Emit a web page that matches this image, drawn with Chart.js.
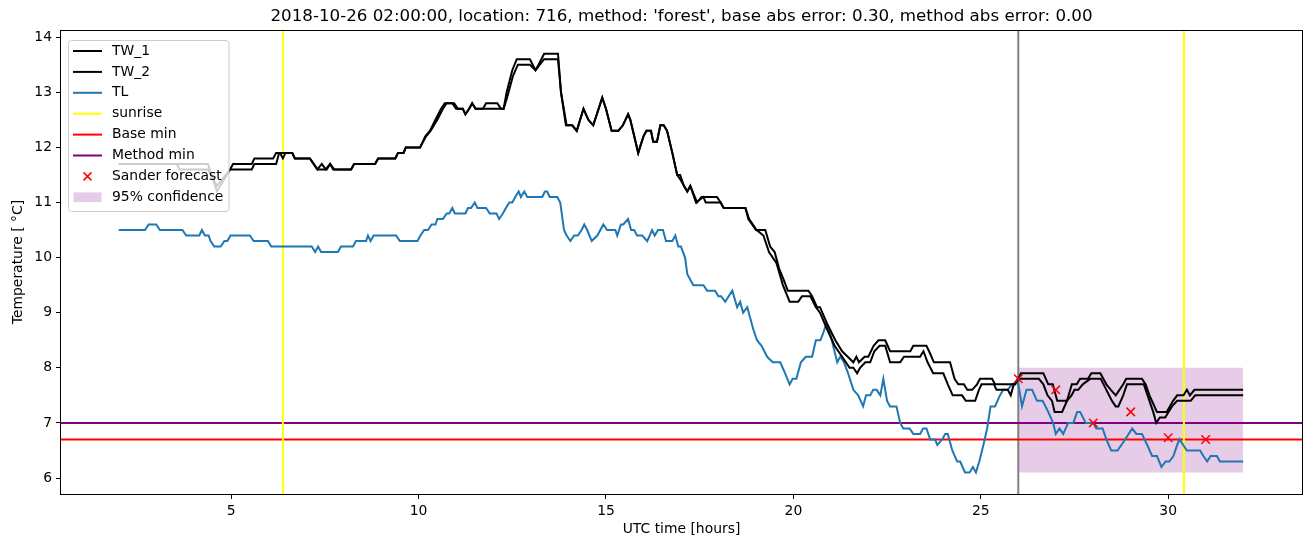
<!DOCTYPE html>
<html>
<head>
<meta charset="utf-8">
<script src="https://cdn.jsdelivr.net/npm/chart.js@4.4.0/dist/chart.umd.min.js"></script>
<style>
  body { margin: 0; background: #fff; }
  canvas { display: block; }
</style>
</head>
<body>
<canvas id="grafico" width="1311" height="547"></canvas>
<script>
// eixos
const xMin = 0.46, xMax = 33.57;
const yMin = 5.71, yMax = 14.13;
const xTicks = [5, 10, 15, 20, 25, 30];
const yTicks = [6, 7, 8, 9, 10, 11, 12, 13, 14];

// TW_1 (horas UTC, graus)
const tempoTw1 = [2.0, 4.38, 4.62, 4.97, 5.05, 5.55, 5.62, 6.12, 6.2, 6.3, 6.38, 6.45, 6.63, 6.7, 7.1, 7.2, 7.3, 7.42, 7.52, 7.64, 7.75, 8.2, 8.28, 8.84, 8.92, 9.38, 9.45, 9.6, 9.66, 10.04, 10.18, 10.3, 10.45, 10.6, 10.7, 10.95, 11.05, 11.18, 11.25, 11.35, 11.43, 11.52, 11.72, 11.8, 12.1, 12.2, 12.27, 12.35, 12.5, 12.62, 12.97, 13.12, 13.2, 13.35, 13.72, 13.8, 13.93, 14.1, 14.22, 14.4, 14.53, 14.66, 14.9, 15.0, 15.15, 15.33, 15.45, 15.59, 15.65, 15.86, 16.0, 16.08, 16.2, 16.26, 16.36, 16.45, 16.54, 16.63, 16.77, 16.9, 16.98, 17.08, 17.17, 17.25, 17.43, 17.55, 17.96, 18.06, 18.14, 18.72, 18.8, 18.9, 19.0, 19.25, 19.38, 19.5, 19.62, 19.74, 19.85, 20.4, 20.5, 20.63, 20.71, 20.9, 21.12, 21.3, 21.45, 21.6, 21.68, 21.75, 21.9, 22.0, 22.14, 22.27, 22.45, 22.58, 23.12, 23.2, 23.55, 23.62, 23.75, 24.18, 24.3, 24.4, 24.55, 24.64, 24.77, 24.9, 24.98, 25.3, 25.38, 25.92, 26.0, 26.07, 26.67, 26.8, 26.92, 27.04, 27.3, 27.43, 27.56, 27.65, 27.86, 27.95, 28.19, 28.35, 28.47, 28.6, 28.7, 28.8, 28.88, 29.3, 29.4, 29.5, 29.7, 29.96, 30.13, 30.24, 30.41, 30.5, 30.58, 30.7, 32.0];
const tw1 = [11.7, 11.7, 11.2, 11.6, 11.7, 11.7, 11.8, 11.8, 11.9, 11.9, 11.8, 11.9, 11.9, 11.8, 11.8, 11.7, 11.6, 11.7, 11.6, 11.7, 11.6, 11.6, 11.7, 11.7, 11.8, 11.8, 11.9, 11.9, 12.0, 12.0, 12.2, 12.3, 12.5, 12.7, 12.8, 12.8, 12.7, 12.7, 12.6, 12.7, 12.8, 12.7, 12.7, 12.8, 12.8, 12.7, 12.7, 13.0, 13.4, 13.6, 13.6, 13.4, 13.5, 13.7, 13.7, 13.0, 12.4, 12.4, 12.3, 12.7, 12.5, 12.4, 12.9, 12.7, 12.3, 12.3, 12.4, 12.6, 12.5, 11.9, 12.2, 12.3, 12.3, 12.1, 12.1, 12.4, 12.4, 12.3, 11.9, 11.5, 11.5, 11.3, 11.2, 11.3, 11.0, 11.1, 11.1, 11.0, 10.9, 10.9, 10.7, 10.6, 10.5, 10.5, 10.2, 10.1, 9.8, 9.6, 9.4, 9.4, 9.3, 9.1, 9.1, 8.8, 8.5, 8.3, 8.2, 8.1, 8.2, 8.1, 8.2, 8.2, 8.4, 8.5, 8.5, 8.3, 8.3, 8.4, 8.4, 8.3, 8.1, 8.1, 7.8, 7.7, 7.7, 7.6, 7.6, 7.7, 7.8, 7.8, 7.7, 7.7, 7.8, 7.9, 7.9, 7.7, 7.7, 7.4, 7.4, 7.7, 7.7, 7.8, 7.8, 7.9, 7.9, 7.7, 7.6, 7.5, 7.6, 7.7, 7.8, 7.8, 7.7, 7.5, 7.2, 7.2, 7.4, 7.5, 7.5, 7.6, 7.5, 7.6, 7.6];

// TW_2
const tempoTw2 = [2.0, 3.55, 3.62, 4.38, 4.62, 4.97, 5.55, 5.62, 6.2, 6.28, 6.63, 6.7, 7.1, 7.2, 7.3, 7.55, 7.64, 7.72, 8.2, 8.28, 8.84, 8.92, 9.38, 9.45, 9.6, 9.66, 10.04, 10.12, 10.2, 10.32, 10.5, 10.65, 10.75, 10.9, 11.0, 11.18, 11.25, 11.35, 11.43, 11.52, 12.27, 12.36, 12.52, 12.65, 12.97, 13.12, 13.35, 13.72, 13.8, 13.95, 14.1, 14.22, 14.4, 14.53, 14.66, 14.9, 15.0, 15.15, 15.33, 15.45, 15.59, 15.65, 15.86, 16.0, 16.08, 16.2, 16.26, 16.36, 16.45, 16.54, 16.63, 16.77, 16.9, 17.0, 17.17, 17.25, 17.4, 17.6, 17.66, 18.06, 18.14, 18.72, 18.82, 18.92, 19.02, 19.2, 19.35, 19.55, 19.72, 19.9, 20.13, 20.23, 20.45, 20.6, 20.71, 20.9, 21.1, 21.3, 21.5, 21.6, 21.7, 21.78, 21.92, 22.05, 22.16, 22.3, 22.45, 22.58, 22.85, 22.95, 23.38, 23.47, 23.58, 23.73, 24.0, 24.12, 24.25, 24.5, 24.6, 24.85, 24.95, 25.02, 25.35, 25.42, 25.72, 25.8, 25.88, 26.0, 26.55, 26.67, 26.78, 26.9, 26.97, 27.17, 27.3, 27.42, 27.5, 27.6, 27.72, 27.92, 28.2, 28.35, 28.5, 28.6, 28.67, 28.8, 28.9, 29.35, 29.45, 29.6, 29.68, 29.78, 29.92, 30.1, 30.24, 30.6, 30.72, 32.0];
const tw2 = [11.7, 11.7, 11.6, 11.6, 11.3, 11.6, 11.6, 11.7, 11.7, 11.9, 11.9, 11.8, 11.8, 11.7, 11.6, 11.6, 11.7, 11.6, 11.6, 11.7, 11.7, 11.8, 11.8, 11.9, 11.9, 12.0, 12.0, 12.1, 12.2, 12.3, 12.5, 12.7, 12.8, 12.8, 12.7, 12.7, 12.6, 12.7, 12.8, 12.7, 12.7, 12.9, 13.3, 13.5, 13.5, 13.4, 13.6, 13.6, 13.0, 12.4, 12.4, 12.3, 12.7, 12.5, 12.4, 12.9, 12.7, 12.3, 12.3, 12.4, 12.6, 12.5, 11.9, 12.2, 12.3, 12.3, 12.1, 12.1, 12.4, 12.4, 12.3, 11.9, 11.5, 11.4, 11.2, 11.3, 11.0, 11.1, 11.0, 11.0, 10.9, 10.9, 10.7, 10.6, 10.5, 10.4, 10.1, 9.9, 9.5, 9.2, 9.2, 9.3, 9.3, 9.1, 9.0, 8.7, 8.4, 8.2, 8.0, 8.0, 7.9, 8.0, 8.1, 8.1, 8.3, 8.4, 8.4, 8.1, 8.1, 8.2, 8.2, 8.3, 8.1, 7.9, 7.9, 7.7, 7.5, 7.5, 7.4, 7.4, 7.6, 7.7, 7.7, 7.6, 7.6, 7.5, 7.7, 7.8, 7.8, 7.7, 7.5, 7.4, 7.2, 7.2, 7.4, 7.5, 7.6, 7.6, 7.7, 7.8, 7.8, 7.6, 7.4, 7.3, 7.3, 7.5, 7.7, 7.7, 7.5, 7.2, 7.0, 7.1, 7.1, 7.3, 7.4, 7.4, 7.5, 7.5];

// TL
const tempoTl = [2.0, 2.7, 2.8, 3.0, 3.1, 3.7, 3.8, 4.15, 4.22, 4.3, 4.4, 4.45, 4.55, 4.72, 4.82, 4.9, 4.98, 5.5, 5.6, 5.98, 6.07, 7.15, 7.24, 7.32, 7.4, 7.85, 7.93, 8.25, 8.33, 8.6, 8.65, 8.72, 8.8, 9.4, 9.5, 9.97, 10.05, 10.15, 10.25, 10.35, 10.45, 10.5, 10.65, 10.75, 10.82, 10.9, 10.97, 11.25, 11.32, 11.4, 11.5, 11.57, 11.8, 11.9, 12.08, 12.15, 12.25, 12.33, 12.42, 12.5, 12.58, 12.67, 12.73, 12.82, 12.9, 13.3, 13.37, 13.43, 13.5, 13.7, 13.78, 13.88, 13.95, 14.05, 14.15, 14.25, 14.35, 14.42, 14.5, 14.62, 14.77, 14.93, 15.03, 15.25, 15.3, 15.4, 15.46, 15.59, 15.67, 15.75, 15.83, 15.97, 16.1, 16.23, 16.3, 16.39, 16.52, 16.6, 16.77, 16.85, 16.93, 17.0, 17.11, 17.17, 17.33, 17.6, 17.7, 17.91, 18.0, 18.07, 18.18, 18.37, 18.5, 18.58, 18.66, 18.77, 18.93, 19.03, 19.15, 19.3, 19.45, 19.65, 19.78, 19.9, 19.98, 20.08, 20.2, 20.33, 20.5, 20.6, 20.72, 20.78, 20.88, 20.99, 21.06, 21.17, 21.25, 21.35, 21.46, 21.6, 21.73, 21.86, 21.94, 22.05, 22.13, 22.22, 22.32, 22.4, 22.5, 22.58, 22.75, 22.85, 22.93, 23.1, 23.2, 23.38, 23.46, 23.55, 23.65, 23.78, 23.84, 23.97, 24.05, 24.12, 24.24, 24.37, 24.45, 24.58, 24.7, 24.79, 24.87, 24.96, 25.07, 25.17, 25.26, 25.38, 25.51, 25.6, 25.72, 25.83, 25.92, 25.98, 26.1, 26.22, 26.37, 26.5, 26.65, 26.8, 26.93, 27.0, 27.1, 27.2, 27.33, 27.47, 27.57, 27.65, 27.8, 28.0, 28.08, 28.25, 28.35, 28.48, 28.65, 28.85, 29.04, 29.15, 29.3, 29.44, 29.57, 29.7, 29.82, 29.93, 30.03, 30.14, 30.24, 30.3, 30.4, 30.5, 30.85, 30.94, 31.04, 31.13, 31.3, 31.38, 32.0];
const tl = [10.5, 10.5, 10.6, 10.6, 10.5, 10.5, 10.4, 10.4, 10.5, 10.4, 10.4, 10.3, 10.2, 10.2, 10.3, 10.3, 10.4, 10.4, 10.3, 10.3, 10.2, 10.2, 10.1, 10.2, 10.1, 10.1, 10.2, 10.2, 10.3, 10.3, 10.4, 10.3, 10.4, 10.4, 10.3, 10.3, 10.4, 10.5, 10.5, 10.6, 10.6, 10.7, 10.7, 10.8, 10.8, 10.9, 10.8, 10.8, 10.9, 10.9, 11.0, 10.9, 10.9, 10.8, 10.8, 10.7, 10.8, 10.9, 11.0, 11.0, 11.1, 11.2, 11.1, 11.2, 11.1, 11.1, 11.2, 11.2, 11.1, 11.1, 11.0, 10.5, 10.4, 10.3, 10.4, 10.4, 10.5, 10.6, 10.5, 10.3, 10.4, 10.6, 10.5, 10.5, 10.4, 10.6, 10.6, 10.7, 10.5, 10.5, 10.4, 10.4, 10.3, 10.5, 10.4, 10.5, 10.5, 10.3, 10.3, 10.4, 10.2, 10.2, 10.0, 9.7, 9.5, 9.5, 9.4, 9.4, 9.3, 9.3, 9.2, 9.4, 9.1, 9.2, 9.0, 9.1, 8.7, 8.5, 8.4, 8.2, 8.1, 8.1, 7.9, 7.7, 7.8, 7.8, 8.1, 8.2, 8.2, 8.5, 8.5, 8.6, 8.8, 8.6, 8.4, 8.1, 8.2, 8.1, 7.9, 7.6, 7.5, 7.3, 7.5, 7.5, 7.6, 7.6, 7.5, 7.8, 7.4, 7.3, 7.3, 7.0, 6.9, 6.9, 6.8, 6.8, 6.9, 6.9, 6.7, 6.7, 6.6, 6.7, 6.8, 6.8, 6.5, 6.3, 6.3, 6.1, 6.1, 6.2, 6.1, 6.3, 6.6, 6.9, 7.3, 7.3, 7.5, 7.6, 7.6, 7.7, 7.7, 7.8, 7.3, 7.6, 7.6, 7.4, 7.4, 7.2, 7.0, 6.8, 6.9, 6.8, 7.0, 7.0, 7.2, 7.2, 7.0, 7.0, 6.9, 6.9, 6.7, 6.5, 6.5, 6.7, 6.9, 6.8, 6.8, 6.6, 6.4, 6.4, 6.2, 6.3, 6.3, 6.4, 6.6, 6.7, 6.6, 6.5, 6.5, 6.4, 6.3, 6.4, 6.4, 6.3, 6.3];

// marcas de referencia
const nascerSol = [6.38, 30.42];
const inicioPrevisao = 26.0;
const baseMin = 6.7;
const metodoMin = 7.0;

// previsao Sander
const tempoPrevisao = [26, 27, 28, 29, 30, 31];
const previsao = [7.8, 7.6, 7.0, 7.2, 6.73, 6.7];

// intervalo de 95%
const tempoConf = [26.0, 32.0];
const confInf = [6.1, 6.1];
const confSup = [8.0, 8.0];

const fonte = "'DejaVu Sans', sans-serif";

function pontos(tempos, valores) {
    return tempos.map(function (t, i) { return { x: t, y: valores[i] }; });
}

// linhas verticais separadas por um ponto vazio
function verticais(xs) {
    var d = [];
    xs.forEach(function (x) { d.push({ x: x, y: yMin }, { x: x, y: yMax }, { x: x, y: null }); });
    return d;
}

function horizontal(y) {
    return [{ x: xMin, y: y }, { x: xMax, y: y }];
}

// moldura, titulos e legenda desenhados por cima
const extras = {
    id: 'extras',
    afterDraw: function (chart) {
        const c = chart.ctx;
        const a = chart.chartArea;
        c.save();

        c.strokeStyle = '#000';
        c.lineWidth = 1;
        c.strokeRect(Math.round(a.left) - 0.5, Math.round(a.top) + 0.5, Math.round(a.right - a.left) + 1, Math.round(a.bottom - a.top));

        c.fillStyle = '#000';
        c.textAlign = 'center';
        c.textBaseline = 'middle';
        c.font = '16.7px ' + fonte;
        c.fillText("2018-10-26 02:00:00, location: 716, method: 'forest', base abs error: 0.30, method abs error: 0.00", (a.left + a.right) / 2, 17);

        c.font = '13.9px ' + fonte;
        c.fillText('UTC time [hours]', (a.left + a.right) / 2, 529);
        c.save();
        c.translate(18, (a.top + a.bottom) / 2);
        c.rotate(-Math.PI / 2);
        c.fillText('Temperature [ °C]', 0, 0);
        c.restore();

        // legenda
        const bx = 68.5, by = 40.5, bw = 160.5, bh = 171, r = 3;
        c.beginPath();
        c.moveTo(bx + r, by);
        c.arcTo(bx + bw, by, bx + bw, by + bh, r);
        c.arcTo(bx + bw, by + bh, bx, by + bh, r);
        c.arcTo(bx, by + bh, bx, by, r);
        c.arcTo(bx, by, bx + bw, by, r);
        c.closePath();
        c.fillStyle = 'rgba(255,255,255,0.8)';
        c.fill();
        c.strokeStyle = '#cccccc';
        c.stroke();

        const itens = chart.data.datasets.filter(function (ds) { return ds.tipoLegenda; });
        c.textAlign = 'left';
        c.font = '13.9px ' + fonte;
        itens.forEach(function (ds, i) {
            const cy = 51 + i * 20.9;
            if (ds.tipoLegenda === 'linha') {
                c.strokeStyle = ds.borderColor;
                c.lineWidth = 2;
                c.beginPath();
                c.moveTo(73, cy);
                c.lineTo(102, cy);
                c.stroke();
            } else if (ds.tipoLegenda === 'marcador') {
                c.strokeStyle = ds.borderColor;
                c.lineWidth = 1.5;
                c.beginPath();
                c.moveTo(83.5, cy - 4); c.lineTo(91.5, cy + 4);
                c.moveTo(83.5, cy + 4); c.lineTo(91.5, cy - 4);
                c.stroke();
            } else {
                c.fillStyle = ds.backgroundColor;
                c.fillRect(73.5, cy - 4.9, 28, 9.7);
            }
            c.fillStyle = '#000';
            c.fillText(ds.label, 112, cy);
        });
        c.restore();
    }
};

const ctx = document.getElementById('grafico').getContext('2d');
const grafico = new Chart(ctx, {
    type: 'line',
    data: {
        datasets: [
            { label: 'TW_1', data: pontos(tempoTw1, tw1), borderColor: '#000000', borderWidth: 2, order: 2, tipoLegenda: 'linha' },
            { label: 'TW_2', data: pontos(tempoTw2, tw2), borderColor: '#000000', borderWidth: 2, order: 3, tipoLegenda: 'linha' },
            { label: 'TL', data: pontos(tempoTl, tl), borderColor: '#1f77b4', borderWidth: 2, order: 4, tipoLegenda: 'linha' },
            { label: 'sunrise', data: verticais(nascerSol), borderColor: '#ffff00', borderWidth: 2, spanGaps: false, order: 5, tipoLegenda: 'linha' },
            { label: 'Base min', data: horizontal(baseMin), borderColor: '#ff0000', borderWidth: 2, order: 6, tipoLegenda: 'linha' },
            { label: 'Method min', data: horizontal(metodoMin), borderColor: '#800080', borderWidth: 2, order: 7, tipoLegenda: 'linha' },
            { label: 'Sander forecast', data: pontos(tempoPrevisao, previsao), showLine: false, borderColor: '#ff0000', backgroundColor: '#ff0000',
              pointStyle: 'crossRot', pointRadius: 6, pointBorderWidth: 1.5, order: 1, tipoLegenda: 'marcador' },
            { label: 'conf_inf', data: pontos(tempoConf, confInf), borderWidth: 0, borderColor: 'rgba(0,0,0,0)', order: 10 },
            { label: '95% confidence', data: pontos(tempoConf, confSup), borderWidth: 0, borderColor: 'rgba(0,0,0,0)',
              backgroundColor: 'rgba(128,0,128,0.2)', fill: '-1', order: 9, tipoLegenda: 'area' },
            { label: 'agora', data: verticais([inicioPrevisao]), borderColor: '#808080', borderWidth: 2, spanGaps: false, order: 8 }
        ]
    },
    options: {
        responsive: false,
        animation: false,
        devicePixelRatio: 1,
        layout: { padding: { top: 30, right: 9, left: 0, bottom: 0 } },
        elements: { point: { radius: 0 }, line: { tension: 0 } },
        plugins: { legend: { display: false }, tooltip: { enabled: false }, title: { display: false } },
        scales: {
            x: {
                type: 'linear', min: xMin, max: xMax,
                afterFit: function (s) { s.height = 53; },
                afterBuildTicks: function (s) { s.ticks = xTicks.map(function (v) { return { value: v }; }); },
                grid: { drawOnChartArea: false, drawTicks: true, tickLength: 5, tickColor: '#000', tickWidth: 1 },
                border: { display: false },
                ticks: { color: '#000', font: { family: fonte, size: 13.9 }, padding: 4, maxRotation: 0, autoSkip: false }
            },
            y: {
                type: 'linear', min: yMin, max: yMax,
                afterFit: function (s) { s.width = 61; },
                afterBuildTicks: function (s) { s.ticks = yTicks.map(function (v) { return { value: v }; }); },
                grid: { drawOnChartArea: false, drawTicks: true, tickLength: 5, tickColor: '#000', tickWidth: 1 },
                border: { display: false },
                ticks: { color: '#000', font: { family: fonte, size: 13.9 }, padding: 4, autoSkip: false }
            }
        }
    },
    plugins: [extras]
});
</script>
</body>
</html>
